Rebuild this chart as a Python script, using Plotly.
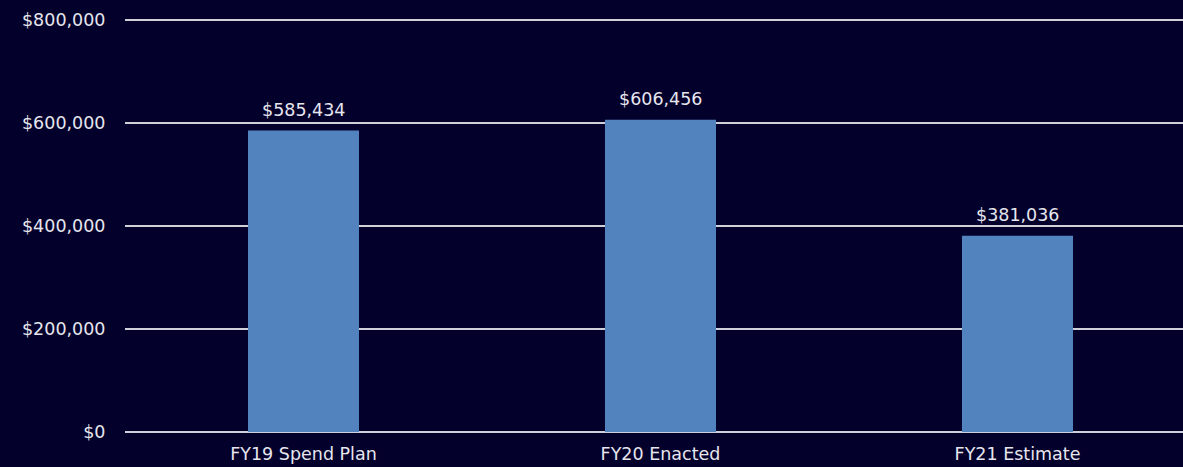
import plotly.graph_objects as go

categories = ["FY19 Spend Plan", "FY20 Enacted", "FY21 Estimate"]
values = [585434, 606456, 381036]
tick_vals = [0, 200000, 400000, 600000, 800000]
tick_text = ["$0", "$200,000", "$400,000", "$600,000", "$800,000"]

bg = "#03002b"
txt = "#e6e6ee"
fnt = "DejaVu Sans, sans-serif"

fig = go.Figure(go.Bar(
    x=categories, y=values,
    marker=dict(color="#5283bf", line=dict(width=0)),
    width=0.311,
))

for c, v in zip(categories, values):
    fig.add_annotation(x=c, y=v, text=f"${v:,}", showarrow=False,
                       yanchor="bottom", yshift=9,
                       font=dict(color=txt, size=17.5, family=fnt))

fig.update_layout(
    width=1183, height=467,
    margin=dict(l=125, r=0, t=15, b=35),
    paper_bgcolor=bg, plot_bgcolor=bg,
    font=dict(family=fnt, color=txt, size=17.5),
    showlegend=False,
    xaxis=dict(range=[-0.5, 2.4636], showgrid=False, showline=False,
               ticks="outside", ticklen=6, tickcolor=bg, tickfont=dict(size=17.5)),
    yaxis=dict(range=[0, 810000], tickvals=tick_vals, ticktext=tick_text,
               showgrid=True, gridcolor="#d0d0d8", gridwidth=1.5,
               zeroline=True, zerolinecolor="#d0d0d8", zerolinewidth=1.5,
               ticks="outside", ticklen=15, tickcolor=bg,
               tickfont=dict(size=17.5)),
)

fig.write_html("out.html", config={"displayModeBar": False},
               post_script="document.body.style.margin='0';document.body.style.overflow='hidden';document.body.style.background='%s';" % bg)
